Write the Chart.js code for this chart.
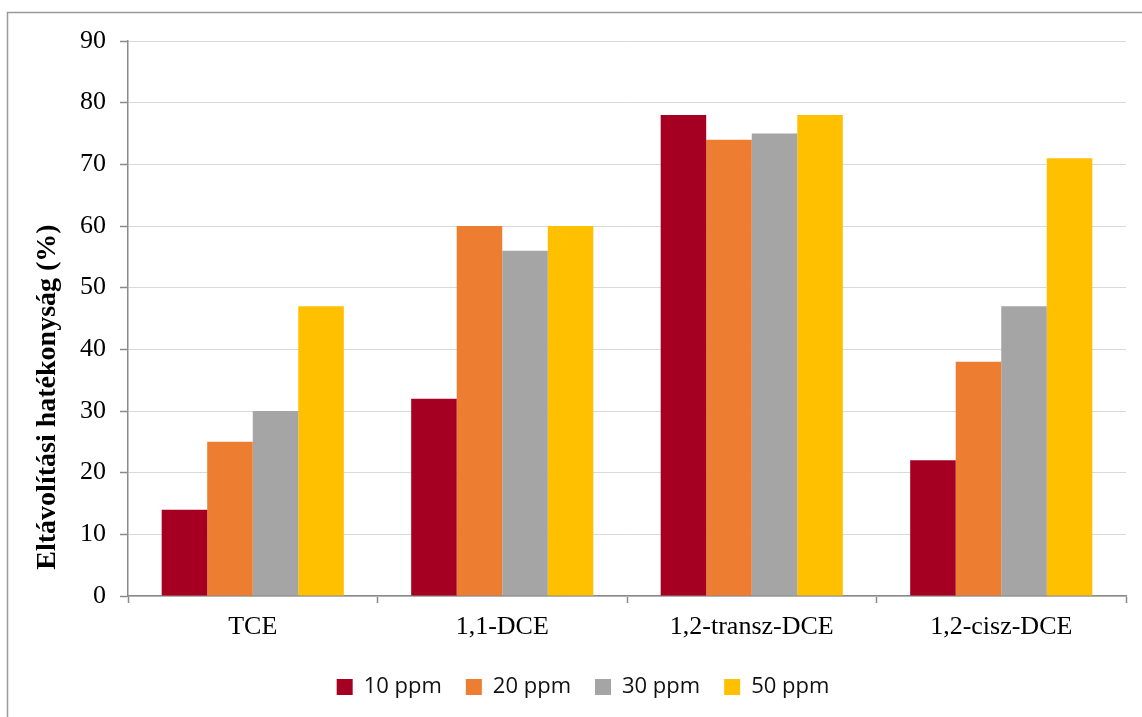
<!DOCTYPE html>
<html>
<head>
<meta charset="utf-8">
<script src="https://cdn.jsdelivr.net/npm/chart.js@4/dist/chart.umd.min.js"></script>
<style>
  html, body { margin: 0; padding: 0; background: #ffffff; }
  #wrap { position: relative; width: 1142px; height: 717px; overflow: hidden; }
  canvas { position: absolute; left: 0; top: 0; }
</style>
</head>
<body>
<div id="wrap"><canvas id="c" width="1142" height="717"></canvas></div>
<script>
// Removal efficiency per compound and inlet concentration
const categories = ['TCE', '1,1-DCE', '1,2-transz-DCE', '1,2-cisz-DCE'];
const seriesLabels = ['10 ppm', '20 ppm', '30 ppm', '50 ppm'];
const ppm10 = [14, 32, 78, 22];
const ppm20 = [25, 60, 74, 38];
const ppm30 = [30, 56, 75, 47];
const ppm50 = [47, 60, 78, 71];
const seriesColors = ['#A50021', '#ED7D31', '#A5A5A5', '#FFC000'];
const yMin = 0, yMax = 90, yStep = 10;
const yTitle = 'Eltávolítási hatékonyság (%)';

const serif = "'Liberation Serif', 'Times New Roman', serif";

// Outer frame and the rotated axis title
const decor = {
  id: 'decor',
  beforeDraw(chart) {
    const ctx = chart.ctx;
    ctx.save();
    ctx.strokeStyle = '#9a9a9a';
    ctx.lineWidth = 1.5;
    ctx.strokeRect(7.5, 12.5, 1300, 900);
    ctx.restore();
  },
  afterDraw(chart) {
    const ctx = chart.ctx;
    ctx.save();
    ctx.translate(48, 397);
    ctx.rotate(-Math.PI / 2);
    ctx.font = "bold 28px " + serif;
    ctx.fillStyle = '#000000';
    ctx.textAlign = 'center';
    ctx.textBaseline = 'middle';
    ctx.fillText(yTitle, 0, 0);
    ctx.restore();
  }
};

const seriesData = [ppm10, ppm20, ppm30, ppm50];

new Chart(document.getElementById('c'), {
  type: 'bar',
  data: {
    labels: categories,
    datasets: seriesData.map((d, i) => ({
      label: seriesLabels[i],
      data: d,
      backgroundColor: seriesColors[i],
      borderWidth: 0,
      categoryPercentage: 0.73,
      barPercentage: 1.0
    }))
  },
  options: {
    responsive: false,
    animation: false,
    devicePixelRatio: 1,
    layout: { padding: { left: 40, top: 41, right: 16, bottom: 9 } },
    plugins: {
      tooltip: { enabled: false },
      legend: {
        position: 'bottom',
        labels: {
          boxWidth: 16,
          boxHeight: 16,
          padding: 24,
          color: '#111111',
          font: { family: "'Open Sans', sans-serif", size: 22 }
        }
      }
    },
    scales: {
      x: {
        offset: true,
        grid: {
          offset: true,
          drawOnChartArea: false,
          drawTicks: true,
          tickLength: 7,
          tickColor: '#8a8a8a',
          tickWidth: 1.5
        },
        border: { color: '#8a8a8a', width: 1.5 },
        ticks: {
          color: '#000000',
          padding: 9,
          maxRotation: 0,
          font: { family: serif, size: 26 }
        },
        afterFit(scale) { scale.height = 56; }
      },
      y: {
        min: yMin,
        max: yMax,
        ticks: {
          stepSize: yStep,
          color: '#000000',
          padding: 14,
          font: { family: serif, size: 26 }
        },
        grid: {
          color: '#d9d9d9',
          lineWidth: 1,
          tickColor: '#8a8a8a',
          tickLength: 8,
          tickWidth: 1.5
        },
        border: { color: '#8a8a8a', width: 1.5 },
        afterFit(scale) { scale.width = 88; }
      }
    }
  },
  plugins: [decor]
});
</script>
</body>
</html>
